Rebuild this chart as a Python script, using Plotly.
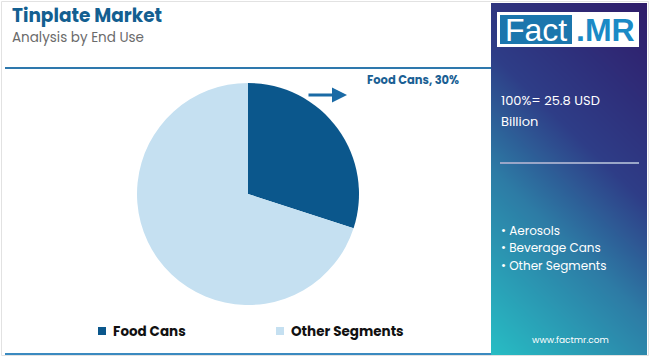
import numpy as np
import plotly.graph_objects as go

# ---- data ----
categories = ["Food Cans", "Other Segments"]
shares = [30, 70]
pie_colors = ["#0b578c", "#c5e0f1"]
title_text = "Tinplate Market"
subtitle_text = "Analysis by End Use"
total_text = ["100%= 25.8 USD", "Billion"]
other_segments = ["Aerosols", "Beverage Cans", "Other Segments"]
site_text = "www.factmr.com"

W, H = 650, 357
def px(x): return x / W
def py(y): return 1 - y / H

FONT = "Poppins, Inter, 'Open Sans', sans-serif"

fig = go.Figure()

# pie
fig.add_trace(go.Pie(
    labels=categories, values=shares, sort=False, direction="clockwise", rotation=0,
    marker=dict(colors=pie_colors, line=dict(width=0)), textinfo="none",
    hoverinfo="label+percent", showlegend=False,
    domain=dict(x=[px(137), px(359)], y=[py(305), py(83)]),
))

# gradient panel (decoration) via heatmap
nx, ny = 40, 80
gx = np.linspace(0, 1, nx)
gy = np.linspace(0, 1, ny)
Z = 0.3 * gx[None, :] + 0.7 * gy[:, None]
fig.add_trace(go.Heatmap(
    z=Z, x=gx, y=gy, xaxis="x2", yaxis="y2", showscale=False, hoverinfo="skip",
    zsmooth="best", zmin=0, zmax=1,
    colorscale=[[0, "#27bdc4"], [0.37, "#2d7ba5"], [0.6, "#2e3d87"], [1, "#2f1c6a"]],
))

fig.update_layout(
    width=W, height=H, margin=dict(l=0, r=0, t=0, b=0),
    paper_bgcolor="white", plot_bgcolor="white",
    xaxis2=dict(domain=[px(491), px(647)], range=[0, 1], visible=False, fixedrange=True),
    yaxis2=dict(domain=[py(355), py(3)], range=[0, 1], visible=False, fixedrange=True),
    xaxis=dict(visible=False), yaxis=dict(visible=False),
    font=dict(family=FONT),
)

shapes = []
# outer border
shapes.append(dict(type="rect", xref="paper", yref="paper", x0=px(1.5), x1=px(648.5), y0=py(355.5), y1=py(1.5),
                   line=dict(color="#e2e2e2", width=1), layer="below"))
# top and bottom rules
shapes.append(dict(type="line", xref="paper", yref="paper", x0=px(5), x1=px(491), y0=py(68), y1=py(68),
                   line=dict(color="#2e78ad", width=2)))
shapes.append(dict(type="line", xref="paper", yref="paper", x0=px(5), x1=px(491), y0=py(354), y1=py(354),
                   line=dict(color="#3a8ac0", width=2)))
# logo
shapes.append(dict(type="rect", xref="paper", yref="paper", x0=px(497), x1=px(639), y0=py(47), y1=py(12),
                   fillcolor="white", line=dict(width=0)))
shapes.append(dict(type="rect", xref="paper", yref="paper", x0=px(500), x1=px(572), y0=py(44), y1=py(15),
                   fillcolor="#1b76ad", line=dict(width=0)))
# separator in panel
shapes.append(dict(type="line", xref="paper", yref="paper", x0=px(500), x1=px(639), y0=py(163), y1=py(163),
                   line=dict(color="#9aa6c8", width=2)))
# legend squares
leg_x = [98, 276]
for i, c in enumerate(categories):
    shapes.append(dict(type="rect", xref="paper", yref="paper", x0=px(leg_x[i]), x1=px(leg_x[i] + 8),
                       y0=py(335), y1=py(327), fillcolor=pie_colors[i], line=dict(width=0)))
fig.update_layout(shapes=shapes)

ann = []
def text(x, y, s, size, color, xanchor="left", bold=False, family=FONT):
    ann.append(dict(xref="paper", yref="paper", x=px(x), y=py(y), text=(f"<b>{s}</b>" if bold else s),
                    showarrow=False, xanchor=xanchor, yanchor="middle",
                    font=dict(size=size, color=color, family=family)))

text(10, 16, title_text, 18.5, "#135f91", bold=True)
text(10, 38, subtitle_text, 13.5, "#6b6b6b")
# pie callout
text(365, 80, f"{categories[0]}, {shares[0]}%", 11.5, "#1a5f94", bold=True)
ann.append(dict(xref="paper", yref="paper", x=px(347), y=py(95), ax=-40, ay=0,
                text="", showarrow=True, arrowhead=2,
                arrowsize=1, arrowwidth=3, arrowcolor="#1a6aa5"))
# legend labels
for i, c in enumerate(categories):
    text(leg_x[i] + 13, 331, c, 13.5, "#111111", bold=True)
# logo text
text(536, 30, "Fact", 32, "white", xanchor="center", family="Arial, 'Liberation Sans', sans-serif")
text(605, 30, "<b>.MR</b>", 32, "#1a8ac6", xanchor="center", family="Arial, 'Liberation Sans', sans-serif")
# panel texts
text(499, 100, total_text[0], 13, "white")
text(499, 121, total_text[1], 13, "white")
for i, s in enumerate(other_segments):
    text(499, 230 + i * 17.5, "• " + s, 12, "white")
text(570, 340, site_text, 9, "white", xanchor="center")
fig.update_layout(annotations=ann)

fig.write_html("out.html", config={"displayModeBar": False},
               post_script="document.body.style.margin='0';document.body.style.padding='0';document.body.style.overflow='hidden';")
